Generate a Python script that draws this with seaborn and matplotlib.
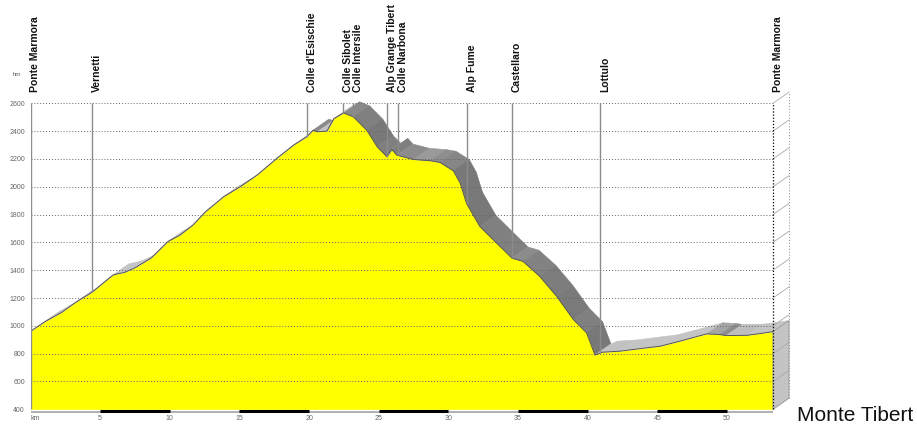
import numpy as np
import pandas as pd
import matplotlib
matplotlib.use("Agg")
import matplotlib.pyplot as plt
import seaborn as sns
from matplotlib.collections import PolyCollection

sns.set_style("white")
plt.rcParams["font.family"] = ["Liberation Sans", "DejaVu Sans"]

#------------------------------ data ----------------------
km = [0, 1.04, 2.24, 3.2, 4.4, 5.35, 5.95, 6.75, 7.5, 8.66, 9.86, 10.76, 11.66,
      12.56, 13.87, 15.07, 16.27, 17.68, 18.88, 19.83, 20.28, 20.58, 21.28,
      21.78, 22.48, 23.19, 24.14, 24.89, 25.59, 25.94, 26.3, 27.5, 28.7, 29.4,
      30.35, 30.85, 31.3, 32.26, 33.46, 34.56, 35.36, 36.56, 37.77, 38.97,
      39.92, 40.52, 41.02, 42.33, 44.23, 45.23, 46.63, 48.54, 49.49, 49.94,
      51.44, 52.34, 53.3]
elev = [960, 1030, 1097, 1166, 1240, 1319, 1367, 1384, 1417, 1487, 1606, 1654,
        1725, 1820, 1929, 2001, 2084, 2204, 2299, 2359, 2406, 2395, 2400, 2490,
        2531, 2502, 2406, 2287, 2216, 2268, 2227, 2196, 2187, 2175, 2115, 2025,
        1880, 1714, 1595, 1487, 1463, 1355, 1212, 1045, 949, 790, 810, 818, 842,
        854, 890, 942, 937, 930, 932, 944, 958]

stop_names = ["Ponte Marmora", "Vernetti", "Colle d'Esischie", "Colle Sibolet",
              "Colle Intersile", "Alp Grange Tibert", "Colle Narbona", "Alp Fume",
              "Castellaro", "Lottulo", "Ponte Marmora"]
stop_km = [0, 4.41, 19.85, 22.43, 23.15, 25.59, 26.38, 31.33, 34.57, 40.88, 53.3]

x_ticks = [0, 5, 10, 15, 20, 25, 30, 35, 40, 45, 50]
x_tick_labels = ["km", "5", "10", "15", "20", "25", "30", "35", "40", "45", "50"]
y_ticks = [400, 600, 800, 1000, 1200, 1400, 1600, 1800, 2000, 2200, 2400, 2600]

title = "Monte Tibert"

df = pd.DataFrame({"km": km, "elev": elev})

DX, DY = 1.15, 80   # depth offset for the 3D look
km_end = km[-1]
base = 400

#------------------------------ figure ----------------------
fig = plt.figure(figsize=(9.17, 4.25), dpi=100)
ax = fig.add_axes([30.5 / 917, 11 / 425, 761.5 / 917, 326 / 425])
ax.set_xlim(0, 761.5 / 13.93)
ax.set_ylim(366.2, 2710)
for s in ax.spines.values():
    s.set_visible(False)

# top surface of the extruded profile, shaded by slope
quads, shades = [], []
for i in range(len(km) - 1):
    k1, k2, e1, e2 = km[i], km[i + 1], elev[i], elev[i + 1]
    quads.append([(k1, e1), (k2, e2), (k2 + DX, e2 + DY), (k1 + DX, e1 + DY)])
    slope = (e2 - e1) / (k2 - k1)
    g = np.interp(slope, [-150, -10, 0, 10], [0.47, 0.56, 0.74, 0.77])
    shades.append((g, g, g))
ax.add_collection(PolyCollection(quads, facecolors=shades, edgecolors=shades,
                                 linewidths=0.4, zorder=1))

# front face
ax.fill_between(df["km"], df["elev"], base, color="#ffff00", lw=0, zorder=2)
sns.lineplot(data=df, x="km", y="elev", ax=ax, color="#555555", lw=0.7, zorder=3)

# end cap
cap = [(km_end, base), (km_end, elev[-1]), (km_end + DX, elev[-1] + DY), (km_end + DX, base + DY)]
ax.add_patch(plt.Polygon(cap, closed=True, facecolor="#c4c4c4", edgecolor="#9a9a9a",
                         lw=0.6, zorder=2))

# grid
for g in y_ticks[1:]:
    ax.plot([0, km_end], [g, g], color="#666666", lw=0.7, ls=(0, (1, 2)), zorder=4)
for g in y_ticks:
    ax.plot([km_end, km_end + DX], [g, g + DY], color="#aaaaaa", lw=0.6, zorder=4)
ax.plot([km_end + DX, km_end + DX], [base + DY, 2600 + DY], color="#888888",
        lw=0.7, ls=(0, (1, 2)), zorder=4)
ax.plot([km_end, km_end], [base, 2600], color="black", lw=0.9, ls=(0, (1, 1.5)), zorder=5)

# waypoint lines and labels
for name, k in zip(stop_names, stop_km):
    if k == 0:
        ax.vlines(k, base, 2600, color="#8c8c8c", lw=1, zorder=5)
    elif k < km_end:
        ax.vlines(k, np.interp(k, km, elev), 2600, color="#8c8c8c", lw=1, zorder=5)
    ax.text(k, 2681, name, rotation=90, ha="left", va="bottom", fontsize=7.5,
            fontweight="bold", color="#111111", clip_on=False)

# km scale bar
ax.plot([0, km_end], [383, 383], color="#b0b0b0", lw=1.4, solid_capstyle="butt",
        clip_on=False, zorder=3)
for a in range(5, 50, 10):
    ax.plot([a, a + 5], [390, 390], color="black", lw=2.2, solid_capstyle="butt",
            clip_on=False, zorder=4)

ax.set_xticks(x_ticks, x_tick_labels)
ax.set_yticks(y_ticks, [str(v) for v in y_ticks])
ax.tick_params(axis="both", length=0, labelsize=5, labelcolor="#666666")
ax.tick_params(axis="y", pad=4)
ax.tick_params(axis="x", pad=0.5)
ax.get_xticklabels()[0].set_horizontalalignment("left")
ax.set_xlabel("")
ax.set_ylabel("")

fig.text(13 / 917, 1 - 75 / 425, "hm", fontsize=4.5, color="#666666", va="center")
fig.text(797 / 917, 1 - 421 / 425, title, fontsize=15, color="#111111", va="baseline")

fig.savefig("out.png", dpi=100)
